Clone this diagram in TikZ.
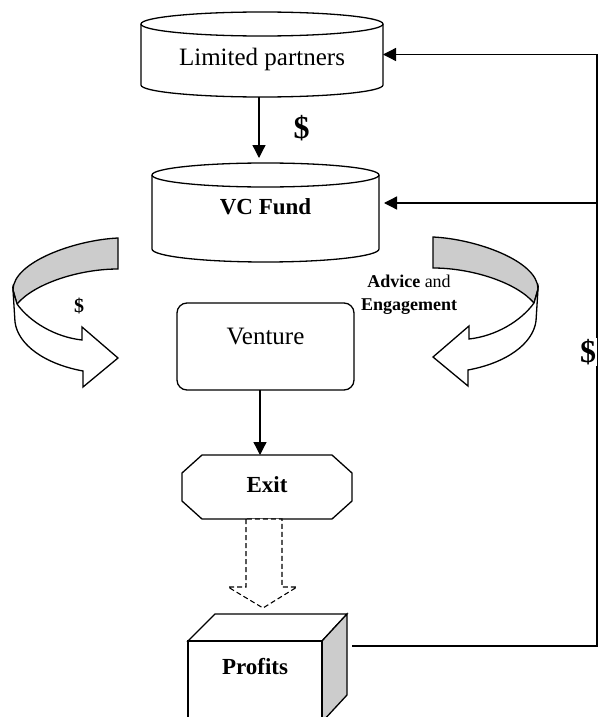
\documentclass[tikz,border=0pt]{standalone}
\usepackage{fontspec}
\setmainfont{Liberation Serif}
\usetikzlibrary{arrows.meta,positioning,calc}

\tikzset{
  area/.style={draw=none, inner sep=0pt, outer sep=0pt},
  line/.style={line width=1.3pt},
  arr/.style={line, -{Triangle[length=13pt,width=13pt]}},
  txt/.style={font=\fontsize{25}{30}\selectfont},
  btxt/.style={font=\fontsize{23}{28}\selectfont\bfseries},
  shade/.style={fill=black!20},
  % the twisted u-turn arrow, tip at (0,0)
  turn/.pic={
    \draw[line, shade] (0,-120) .. controls (-43,-118) and (-105,-96) .. (-105,-68)
      -- (-101,-54) .. controls (-83,-75) and (-38,-89) .. (0,-89) -- cycle;
    \draw[line, fill=white] (-105,-68) -- (-103,-36) .. controls (-100,-13) and (-73,6) .. (-35,13)
      -- (-35,29) -- (0,0) -- (-36,-31) -- (-36,-18)
      .. controls (-63,-21) and (-88,-36) .. (-101,-54) -- cycle;
  }
}

\begin{document}
\begin{tikzpicture}[x=1pt, y=-1pt]
  \useasboundingbox (0,0) rectangle (599,717);

  %% cylinders
  \node[area, minimum width=242, minimum height=85] (lp) at (262,54.5) {};
  \draw[line] ([yshift=-12]lp.north) ellipse [x radius=121, y radius=12];
  \draw[line] ([yshift=-12]lp.north west) -- ([yshift=12]lp.south west)
    arc[start angle=180, end angle=0, x radius=121, y radius=12] -- ([yshift=-12]lp.north east);
  \node[txt] (lp-t) at ([yshift=-4.5]lp.center) {Limited partners};

  \node[area, minimum width=227, minimum height=99] (vc) at (265.5,212.5) {};
  \draw[line] ([yshift=-12]vc.north) ellipse [x radius=113.5, y radius=12];
  \draw[line] ([yshift=-12]vc.north west) -- ([yshift=13]vc.south west)
    arc[start angle=180, end angle=0, x radius=113.5, y radius=13] -- ([yshift=-12]vc.north east);
  \node[btxt] (vc-t) at ([yshift=5.5]vc.center) {VC Fund};

  %% venture and exit
  \node[area, draw, line, rounded corners=10pt, minimum width=177, minimum height=87] (venture) at (265.5,346.5) {};
  \node[txt] (venture-t) at ([yshift=9.5]venture.center) {Venture};

  \node[area, minimum width=170, minimum height=64] (exit) at (267,487) {};
  \draw[line] ([xshift=20]exit.north west) -- ([xshift=-20]exit.north east)
    -- ([yshift=-18]exit.north east) -- ([yshift=18]exit.south east)
    -- ([xshift=-20]exit.south east) -- ([xshift=20]exit.south west)
    -- ([yshift=18]exit.south west) -- ([yshift=-18]exit.north west) -- cycle;
  \node[btxt] (exit-t) at ([yshift=2]exit.center) {Exit};

  %% profits box
  \node[area, minimum width=134, minimum height=81] (pf) at (255,681.5) {};
  \draw[line, fill=white] (pf.north west) -- ++(27,-27) -- ++(132,0) -- (pf.north east) -- cycle;
  \draw[line, shade] (pf.north east) -- ++(25,-27) -- ++(0,81) -- (pf.south east) -- cycle;
  \draw[line] (pf.north west) rectangle (pf.south east);
  \node[btxt] (pf-t) at ([yshift=14.5]pf.center) {Profits};

  %% connectors
  \draw[arr] ([xshift=-3]lp.south) -- ([xshift=-3,yshift=5]lp.south |- vc.north);
  \draw[arr] ([xshift=-5.5]venture.south) -- ([xshift=-5.5]venture.south |- exit.north);
  \draw[line, dash pattern=on 5pt off 3pt, line width=1.1pt, fill=white]
    ([xshift=-21]exit.south) -- ++(0,68) -- ++(-18,0) -- ++(35,21) -- ++(34,-21)
    -- ++(-15,0) -- ([xshift=15]exit.south) -- cycle;

  \coordinate (rt) at ([xshift=214]lp.east);
  \coordinate (vcin) at ([xshift=5,yshift=9.5]vc.east);
  \draw[arr] ([xshift=30,yshift=-5]pf.north east) -| (rt) -- (lp.east);
  \draw[arr] (rt |- vcin) -- (vcin);

  %% curved arrows
  \pic at (118,358) {turn};
  \pic[xscale=-1] at (433,357) {turn};

  %% labels
  \node[font=\fontsize{32}{36}\selectfont\bfseries] (usd-t) at (301.5,128.5) {\$};
  \node[font=\fontsize{20}{24}\selectfont\bfseries] (usd-l) at (79,306) {\$};
  \node[font=\fontsize{32}{38}\selectfont\bfseries, fill=white, inner sep=1pt] (usd-r) at (588,352) {\$};
  \node[align=center, font=\fontsize{18}{23}\selectfont] (adv) at (409,295) {\textbf{Advice} and\\\textbf{Engagement}};
\end{tikzpicture}
\end{document}
